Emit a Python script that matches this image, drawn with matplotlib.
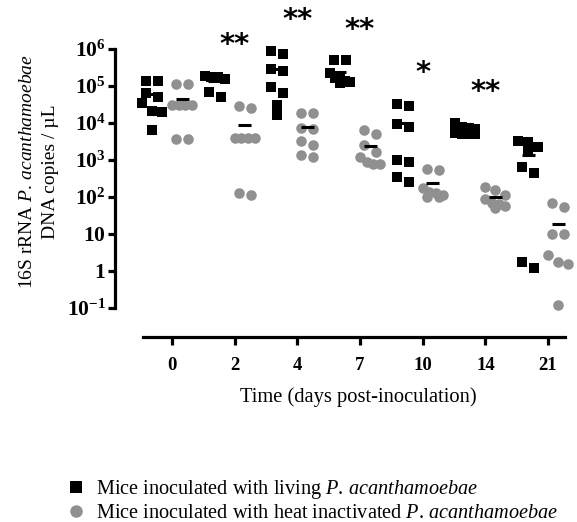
import numpy as np
import matplotlib
matplotlib.use('Agg')
import matplotlib.pyplot as plt
from matplotlib.lines import Line2D

# ---------------- data (DNA copies / µL) ----------------
days = ['0', '2', '4', '7', '10', '14', '21']
living = [
    [1.4e5, 1.4e5, 6.3e4, 5.0e4, 3.5e4, 2.1e4, 2.0e4, 6.3e3],
    [1.9e5, 1.7e5, 1.75e5, 1.55e5, 7.0e4, 5.0e4],
    [8.9e5, 7.2e5, 2.8e5, 2.6e5, 9.5e4, 6.5e4, 3.0e4, 1.6e4],
    [5.0e5, 5.0e5, 2.2e5, 1.6e5, 1.5e5, 1.4e5, 1.3e5, 1.2e5],
    [3.3e4, 2.8e4, 9.5e3, 7.8e3, 1.0e3, 9.1e2, 3.4e2, 2.5e2],
    [1.0e4, 7.8e3, 7.4e3, 7.0e3, 5.4e3, 5.2e3, 5.0e3, 5.2e3],
    [3.2e3, 3.0e3, 2.2e3, 1.6e3, 6.6e2, 4.4e2, 1.8, 1.2],
]
inactivated = [
    [1.1e5, 1.1e5, 3.0e4, 3.0e4, 3.0e4, 3.0e4, 3.7e3, 3.7e3],
    [2.8e4, 2.6e4, 3.9e3, 3.9e3, 3.9e3, 3.9e3, 1.3e2, 1.15e2],
    [1.9e4, 1.9e4, 7.4e3, 7.1e3, 3.2e3, 2.6e3, 1.4e3, 1.2e3],
    [6.3e3, 5.1e3, 2.5e3, 1.6e3, 1.2e3, 8.9e2, 7.8e2, 7.8e2],
    [5.8e2, 5.4e2, 1.8e2, 1.4e2, 1.25e2, 1.1e2, 1.0e2, 1.0e2],
    [1.9e2, 1.55e2, 1.1e2, 89, 71, 63, 56, 50],
    [71, 54, 9.8, 9.8, 2.7, 1.8, 1.55, 0.12],
]
significance = ['', '**', '**', '**', '*', '**', '']
ytick_vals = [1e-1, 1, 10, 1e2, 1e3, 1e4, 1e5, 1e6]
ytick_labels = [r'$\mathbf{10^{-1}}$', r'$\mathbf{1}$', r'$\mathbf{10}$', r'$\mathbf{10^{2}}$',
                r'$\mathbf{10^{3}}$', r'$\mathbf{10^{4}}$', r'$\mathbf{10^{5}}$', r'$\mathbf{10^{6}}$']

# ---------------- style ----------------
plt.rcParams['font.family'] = ['Liberation Serif', 'DejaVu Serif']
plt.rcParams['mathtext.fontset'] = 'custom'
plt.rcParams['mathtext.rm'] = 'Liberation Serif'
plt.rcParams['mathtext.it'] = 'Liberation Serif:italic'
plt.rcParams['mathtext.bf'] = 'Liberation Serif:bold'

GRAY = '#909090'
W, H = 577, 522
fig = plt.figure(figsize=(W / 100, H / 100), dpi=100)
ax = fig.add_axes([115 / W, 1 - 308 / H, 455 / W, 259 / H])
ax.set_yscale('log')
ax.set_ylim(1e-1, 1e6)
ax.set_xlim(-0.909, 6.35)

for s in ['top', 'right']:
    ax.spines[s].set_visible(False)
ax.spines['left'].set_linewidth(2.3)
ax.spines['bottom'].set_linewidth(2.3)
ax.spines['bottom'].set_position(('outward', 21))
ax.spines['bottom'].set_bounds(-0.46, 6.27)

ax.set_yticks(ytick_vals)
ax.set_yticklabels(ytick_labels)
ax.yaxis.set_minor_locator(matplotlib.ticker.NullLocator())
ax.tick_params(axis='y', length=5, width=2.3, pad=1.5, labelsize=15.5)
x_idx = np.arange(len(days))
ax.set_xticks(x_idx)
ax.set_xticklabels(days, fontweight='bold')
ax.tick_params(axis='x', length=6, width=2.3, pad=8, labelsize=13.5)


def row_spread(yd, row_h=9.0, spacing=12.0, max_width=20.0):
    """Scatter-dot layout: points within one row height share a row and are
    spread symmetrically around the group centre (display pixels)."""
    yd = np.asarray(yd)
    order = np.argsort(-yd, kind='stable')
    res = np.zeros(len(yd))
    rows, cur = [], []
    for idx in order:
        if cur and yd[cur[0]] - yd[idx] > row_h:
            rows.append(cur)
            cur = []
        cur.append(idx)
    if cur:
        rows.append(cur)
    for r in rows:
        n = len(r)
        sp = spacing if n < 2 else min(spacing, max_width / (n - 1))
        for j, idx in enumerate(r):
            res[idx] = (j - (n - 1) / 2) * sp
    return res


trans = ax.transData
inv = trans.inverted()
px_per_unit = trans.transform((1, 1))[0] - trans.transform((0, 1))[0]


def draw_group(i, values, center_shift, marker, color, ms):
    vals = np.asarray(values, dtype=float)
    xc = i + center_shift
    disp = trans.transform(np.column_stack([np.full(len(vals), xc), vals]))
    disp[:, 0] += row_spread(disp[:, 1])
    data = inv.transform(disp)
    ax.plot(data[:, 0], vals, linestyle='none', marker=marker, color=color,
            markersize=ms, markeredgewidth=0, clip_on=False, zorder=3)
    m = vals.mean()
    half = 6.5 / px_per_unit
    ax.plot([xc - half, xc + half], [m, m], color='black', lw=2.2,
            solid_capstyle='butt', zorder=4, clip_on=False)


for i in x_idx:
    draw_group(i, living[i], -0.32, 's', 'black', 6.8)
    draw_group(i, inactivated[i], 0.16, 'o', GRAY, 7.6)
    if significance[i]:
        ax.annotate(significance[i], xy=(i, max(living[i])), xytext=(0, 22),
                    textcoords='offset points', ha='center', va='center',
                    fontsize=21, fontweight='bold', family='DejaVu Sans',
                    annotation_clip=False)

# axis titles
fig.text(39 / W, 1 - 172 / H,
         '16S rRNA $\\it{P.\\,acanthamoebae}$\nDNA copies / µL',
         rotation=90, ha='center', va='center', fontsize=14, linespacing=1.45)
fig.text(358 / W, 1 - 397 / H, 'Time (days post-inoculation)',
         ha='center', va='center', fontsize=14.8)

handles = [Line2D([], [], linestyle='none', marker='s', color='black', markersize=8.5, markeredgewidth=0),
           Line2D([], [], linestyle='none', marker='o', color=GRAY, markersize=9, markeredgewidth=0)]
labels = ['Mice inoculated with living $\\it{P.\\,acanthamoebae}$',
          'Mice inoculated with heat inactivated $\\it{P.\\,acanthamoebae}$']
fig.legend(handles, labels, loc='upper left', bbox_to_anchor=(66 / W, 1 - 478 / H),
           frameon=False, fontsize=14.6, handlelength=1.0, handletextpad=0.5,
           labelspacing=0.12, borderpad=0, borderaxespad=0)

fig.savefig('out.png', dpi=100)
